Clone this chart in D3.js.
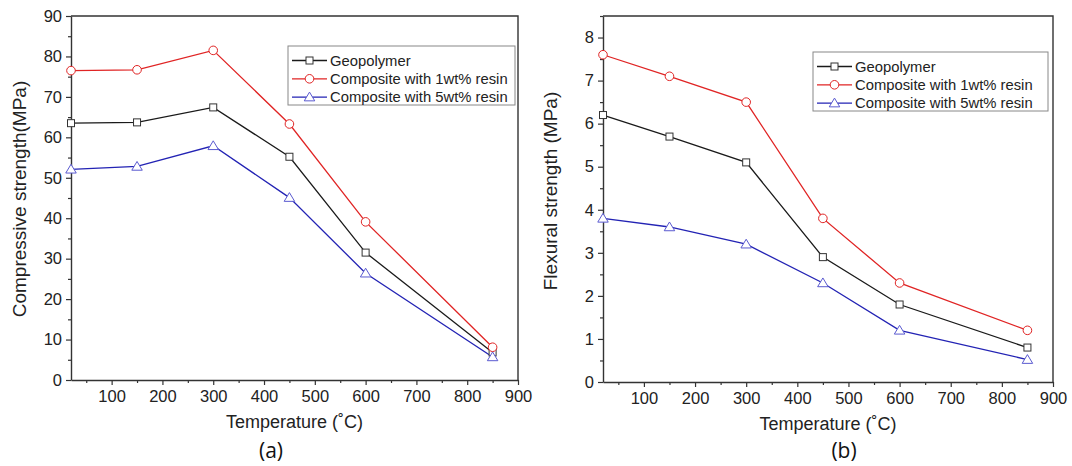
<!DOCTYPE html>
<html lang="en">
<head>
    <meta charset="UTF-8">
    <title>Strength vs temperature</title>
    <script src="https://d3js.org/d3.v7.min.js"></script>
    <style>
        body, html {
            margin: 0px;
            background: #fff;
        }
        svg {
            font-family: 'Liberation Sans', Arial, sans-serif;
        }
    </style>
</head>
<body>
    <div id="chart"></div>
    <script>
        // data
        const temps = [20, 150, 300, 450, 600, 850]
        const seriesNames = ["Geopolymer", "Composite with 1wt% resin", "Composite with 5wt% resin"]
        const seriesColors = ["#1a1a1a", "#e02424", "#2323b4"]
        const seriesMarkers = ["square", "circle", "triangle"]

        const compGeo = [63.5, 63.7, 67.4, 55.2, 31.5, 6.8]
        const compRes1 = [76.5, 76.7, 81.5, 63.3, 39.1, 8.1]
        const compRes5 = [52.1, 52.8, 57.9, 45.1, 26.4, 5.7]

        const flexGeo = [6.2, 5.7, 5.1, 2.9, 1.8, 0.8]
        const flexRes1 = [7.6, 7.1, 6.5, 3.8, 2.3, 1.2]
        const flexRes5 = [3.8, 3.6, 3.2, 2.3, 1.2, 0.52]

        const xTicks = [100, 200, 300, 400, 500, 600, 700, 800, 900]
        const compTicks = [0, 10, 20, 30, 40, 50, 60, 70, 80, 90]
        const flexTicks = [0, 1, 2, 3, 4, 5, 6, 7, 8]

        const svg = d3.select("#chart").append("svg")
            .attr("width", 1072)
            .attr("height", 466)
            .style("background-color", "#fff")

        drawPanel({
            left: 71, right: 518, top: 16, bottom: 380,
            yMax: 90, yTicks: compTicks, yMinorStep: 5,
            series: [compGeo, compRes1, compRes5],
            yTitle: "Compressive strength(MPa)", yTitleX: 26, yTitleY: 199,
            letter: "(a)", letterX: 271,
            legend: { x: 288, y: 46, w: 227, h: 59 }
        })

        drawPanel({
            left: 603, right: 1053, top: 16, bottom: 382,
            yMax: 8.5, yTicks: flexTicks, yMinorStep: 0.5,
            series: [flexGeo, flexRes1, flexRes5],
            yTitle: "Flexural strength (MPa)", yTitleX: 557, yTitleY: 191,
            letter: "(b)", letterX: 844,
            legend: { x: 813, y: 52, w: 235, h: 59 }
        })

        function marker(g, type, x, y, color) {
            if (type === "square") {
                g.append("rect").attr("x", x - 3.5).attr("y", y - 3.5)
                    .attr("width", 7).attr("height", 7)
                    .attr("fill", "#fff").attr("stroke", "#333").attr("stroke-width", 1)
            } else if (type === "circle") {
                g.append("circle").attr("cx", x).attr("cy", y).attr("r", 4.3)
                    .attr("fill", "#fff").attr("stroke", color).attr("stroke-width", 1)
            } else {
                const s = 5
                g.append("path")
                    .attr("d", `M${x},${y - s} L${x + s * 1.05},${y + s * 0.75} L${x - s * 1.05},${y + s * 0.75} Z`)
                    .attr("fill", "#fff").attr("stroke", "#5a5ad0").attr("stroke-width", 1)
            }
        }

        function drawPanel(p) {
            const x = d3.scaleLinear().domain([20, 900]).range([p.left, p.right])
            const y = d3.scaleLinear().domain([0, p.yMax]).range([p.bottom, p.top])
            const g = svg.append("g")

            // minor ticks
            const xMinor = d3.range(50, 901, 50).filter(v => v % 100 !== 0)
            g.append("g").attr("transform", `translate(0,${p.bottom})`)
                .call(d3.axisBottom(x).tickValues(xMinor).tickSize(3).tickFormat(""))
                .call(a => a.select(".domain").remove())
            const yMinor = d3.range(p.yMinorStep, p.yMax + 0.001, p.yMinorStep)
                .filter(v => Math.abs(v / (p.yMinorStep * 2) - Math.round(v / (p.yMinorStep * 2))) > 0.01)
            g.append("g").attr("transform", `translate(${p.left},0)`)
                .call(d3.axisLeft(y).tickValues(yMinor).tickSize(3).tickFormat(""))
                .call(a => a.select(".domain").remove())

            // major axes
            const xAxis = g.append("g").attr("transform", `translate(0,${p.bottom})`)
                .call(d3.axisBottom(x).tickValues(xTicks).tickSize(5).tickPadding(5).tickSizeOuter(0))
            const yAxis = g.append("g").attr("transform", `translate(${p.left},0)`)
                .call(d3.axisLeft(y).tickValues(p.yTicks).tickSize(5).tickPadding(4).tickSizeOuter(0))
            ;[xAxis, yAxis].forEach(a => {
                a.selectAll("text").style("font-size", "16.5px").attr("fill", "#222")
                    .style("font-family", "'Liberation Sans', Arial, sans-serif")
                a.selectAll("line").attr("stroke", "#333").attr("stroke-width", 1.2)
                a.select(".domain").attr("stroke", "#333").attr("stroke-width", 1.4)
            })
            g.selectAll(".tick line").attr("stroke", "#333").attr("stroke-width", 1.2)

            // frame top/right
            g.append("path")
                .attr("d", `M${p.left},${p.top} H${p.right} V${p.bottom}`)
                .attr("fill", "none").attr("stroke", "#333").attr("stroke-width", 1.4)

            // lines and markers
            const line = d3.line().x((d, i) => x(temps[i])).y(d => y(d))
            p.series.forEach((vals, si) => {
                g.append("path").datum(vals).attr("d", line)
                    .attr("fill", "none").attr("stroke", seriesColors[si]).attr("stroke-width", 1.3)
            })
            p.series.forEach((vals, si) => {
                vals.forEach((v, i) => marker(g, seriesMarkers[si], x(temps[i]), y(v), seriesColors[si]))
            })

            // legend
            const L = p.legend
            const lg = g.append("g")
            lg.append("rect").attr("x", L.x).attr("y", L.y).attr("width", L.w).attr("height", L.h)
                .attr("fill", "#fff").attr("stroke", "#888").attr("stroke-width", 1)
            seriesNames.forEach((name, si) => {
                const ry = L.y + 14.5 + si * 18.3
                lg.append("line").attr("x1", L.x + 4).attr("x2", L.x + 39).attr("y1", ry).attr("y2", ry)
                    .attr("stroke", seriesColors[si]).attr("stroke-width", 1.3)
                marker(lg, seriesMarkers[si], L.x + 21.5, ry, seriesColors[si])
                lg.append("text").attr("x", L.x + 42).attr("y", ry + 5)
                    .style("font-size", "14.8px").attr("fill", "#222").text(name)
            })

            // titles
            g.append("text")
                .attr("transform", `translate(${p.yTitleX},${p.yTitleY}) rotate(-90)`)
                .attr("text-anchor", "middle").style("font-size", "19px").attr("fill", "#222")
                .text(p.yTitle)
            g.append("text")
                .attr("x", (p.left + p.right) / 2).attr("y", p.bottom + 48)
                .attr("text-anchor", "middle").style("font-size", "18px").attr("fill", "#222")
                .text("Temperature (\u02DAC)")
            g.append("text")
                .attr("x", p.letterX).attr("y", 458)
                .attr("text-anchor", "middle").style("font-size", "21px").attr("fill", "#111")
                .style("font-family", "'Open Sans', sans-serif")
                .text(p.letter)
        }
    </script>
</body>
</html>
